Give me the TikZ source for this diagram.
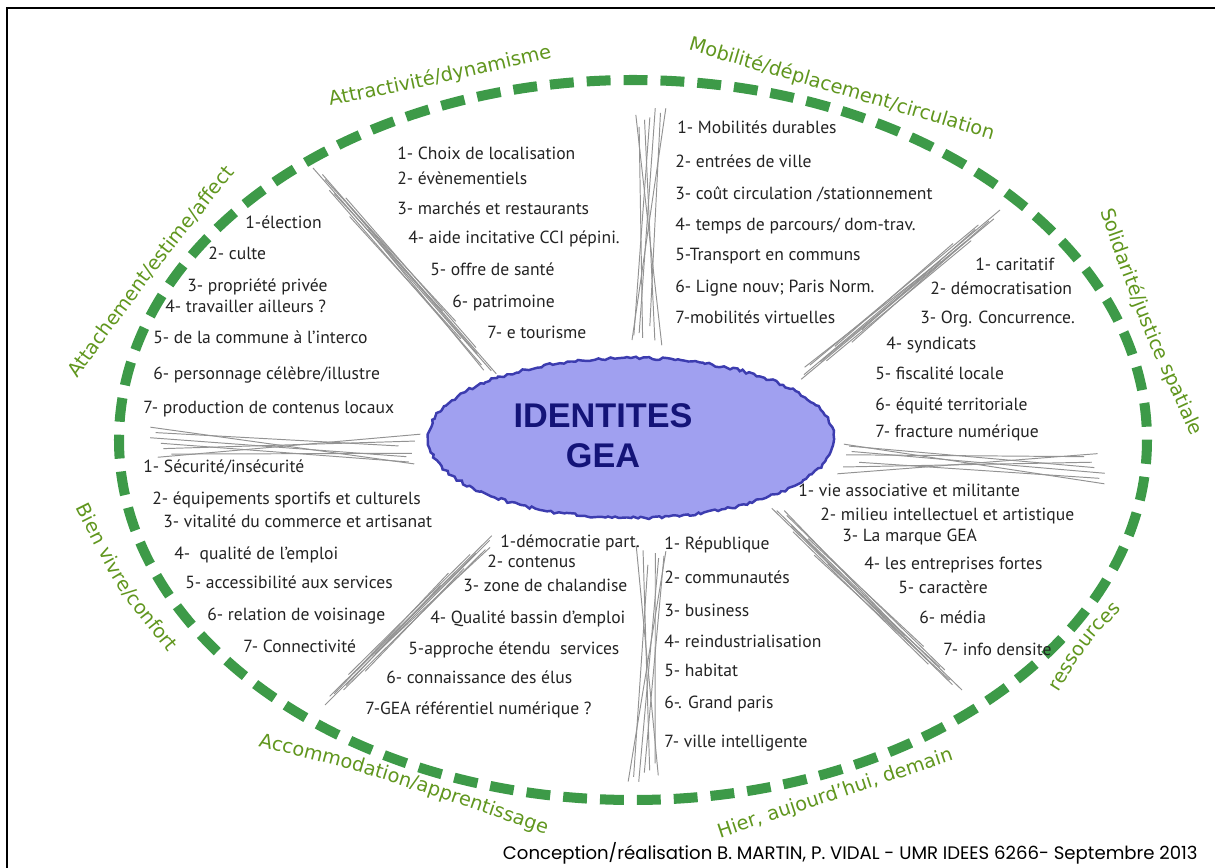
\documentclass[tikz,border=0pt]{standalone}
\usepackage{fontspec}
\usepackage{tikz}
\usetikzlibrary{shapes.geometric}
\usetikzlibrary{calc}
\usetikzlibrary{decorations.text}
\usetikzlibrary{decorations.pathmorphing}

\setmainfont{PT Sans}
\newfontfamily\ringfont{DejaVu Sans}
\newfontfamily\titlefont{Liberation Sans}
\newfontfamily\creditfont{Poppins}

\definecolor{ringgreen}{RGB}{61,154,72}
\definecolor{labelgreen}{RGB}{96,150,30}
\definecolor{corefill}{RGB}{160,160,240}
\definecolor{coreedge}{RGB}{60,60,175}
\definecolor{titleblue}{RGB}{20,20,120}
\definecolor{itemgray}{RGB}{35,35,35}

\def\slantlist{0/0pt/0.02/0pt, 0.04/1.6pt/0/1pt, 0.1/-1.4pt/0.06/-2pt, 0.16/2.8pt/0.12/2.2pt, 0.22/-2.6pt/0.18/-1pt, 0.06/0.8pt/0.24/3.4pt, 0.3/0.4pt/0.04/-3pt, 0.12/-0.6pt/0.3/1.6pt, 0.18/1.2pt/0.1/0.4pt}
\def\crosslist{0/9pt/0.02/-8pt, 0.03/-8pt/0/9pt, 0/3pt/0.05/-4pt, 0.05/-3pt/0.02/5pt, 0.02/6pt/0.08/2pt, 0.08/-6pt/0.03/-2pt, 0.04/0pt/0.04/-7pt}

\newcommand{\hatch}[3]{%
   \foreach \s/\p/\e/\q in #3
      \draw[hatchline] ($(#1)!\s!(#2)!\p!90:(#2)$) -- ($(#2)!\e!(#1)!\q!-90:(#1)$);
}
\newcommand{\ringlabel}[4]{%
   \path[decorate, decoration={text along path,
      text={|\ringfont\fontsize{11}{13}\selectfont\color{labelgreen}|#4}}]
      (#1) .. controls (#2) .. (#3) -- ($(#2)!1.4!(#3)$);
}

\begin{document}
\begin{tikzpicture}[x=0.02cm, y=-0.02cm,
   dashring/.style={draw=ringgreen, line width=5.7pt, dash pattern=on 13.6pt off 7.4pt},
   hatchline/.style={draw=gray!85, line width=0.55pt},
   item/.style={anchor=west, inner sep=0pt, text=itemgray, font=\fontsize{10}{12}\selectfont,
      text height=1.5ex, text depth=0.3ex}]

   \useasboundingbox (0,0) rectangle (1215,868);
   \draw[line width=1.1pt] (7,868) -- (7,8) -- (1215,8);

   \coordinate (ringc) at (633,440);
   \draw[dashring] (ringc) ellipse [x radius=514, y radius=360];

   \coordinate (h1a) at (313,168);  \coordinate (h1b) at (495,375);
   \coordinate (h2a) at (650,108);  \coordinate (h2b) at (646,345);
   \coordinate (h3a) at (1000,210); \coordinate (h3b) at (800,378);
   \coordinate (h4a) at (150,443);  \coordinate (h4b) at (420,450);
   \coordinate (h5a) at (1105,468); \coordinate (h5b) at (838,458);
   \coordinate (h6a) at (325,705);  \coordinate (h6b) at (493,537);
   \coordinate (h7a) at (644,782);  \coordinate (h7b) at (652,546);
   \coordinate (h8a) at (962,690);  \coordinate (h8b) at (773,507);

   \hatch{h1a}{h1b}{\slantlist}
   \hatch{h2a}{h2b}{\crosslist}
   \hatch{h3a}{h3b}{\slantlist}
   \hatch{h4a}{h4b}{\crosslist}
   \hatch{h5a}{h5b}{\crosslist}
   \hatch{h6a}{h6b}{\slantlist}
   \hatch{h7a}{h7b}{\crosslist}
   \hatch{h8a}{h8b}{\slantlist}

   \pgfmathsetseed{7}
   \node[ellipse, minimum width=8.12cm, minimum height=3.2cm, fill=corefill, draw=coreedge,
      line width=1.4pt, decorate, decoration={random steps, segment length=2pt, amplitude=0.8pt}]
      (core) at (631,438) {};
   \node[font=\titlefont\bfseries\fontsize{19.5}{23}\selectfont, text=titleblue, align=center]
      (title) at (603,436) {IDENTITES\\GEA};

   \foreach \n/\x/\y/\t in {1/397/154/{1- Choix de localisation}, 2/397/179/{2- évènementiels},
      3/397/209/{3- marchés et restaurants}, 4/408/238/{4- aide incitative CCI pépini.},
      5/430/270/{5- offre de santé}, 6/452/302/{6- patrimoine}, 7/487/333/{7- e tourisme}}
      \node[item] (attr-\n) at (\x,\y) {\t};

   \foreach \n/\x/\y/\t in {1/677/128/{1- Mobilités durables}, 2/675/162/{2- entrées de ville},
      3/675/194/{3- coût circulation /stationnement}, 4/675/225/{4- temps de parcours/ dom-trav.},
      5/675/255/{5-Transport en communs}, 6/675/287/{6- Ligne nouv; Paris Norm.},
      7/675/318/{7-mobilités virtuelles}}
      \node[item] (mobi-\n) at (\x,\y) {\t};

   \foreach \n/\x/\y/\t in {1/975/265/{1- caritatif}, 2/930/289/{2- démocratisation},
      3/920/318/{3- Org. Concurrence.}, 4/886/344/{4- syndicats}, 5/875/374/{5- fiscalité locale},
      6/875/405/{6- équité territoriale}, 7/875/432/{7- fracture numérique}}
      \node[item] (soli-\n) at (\x,\y) {\t};

   \foreach \n/\x/\y/\t in {1/798/491/{1- vie associative et militante},
      2/820/515/{2- milieu intellectuel et artistique}, 3/842/536/{3- La marque GEA},
      4/864/564/{4- les entreprises fortes}, 5/898/588/{5- caractère}, 6/919/618/{6- média},
      7/943/650/{7- info densite}}
      \node[item] (ress-\n) at (\x,\y) {\t};

   \foreach \n/\x/\y/\t in {1/664/544/{1- République}, 2/664/578/{2- communautés},
      3/664/611/{3- business}, 4/664/642/{4- reindustrialisation}, 5/664/671/{5- habitat},
      6/664/703/{6-. Grand paris}, 7/664/742/{7- ville intelligente}}
      \node[item] (hier-\n) at (\x,\y) {\t};

   \foreach \n/\x/\y/\t in {1/500/542/{1-démocratie part.}, 2/487/562/{2- contenus},
      3/463/586/{3- zone de chalandise}, 4/430/618/{4- Qualité bassin d’emploi},
      5/408/649/{5-approche étendu\ \ services}, 6/386/678/{6- connaissance des élus},
      7/365/709/{7-GEA référentiel numérique ?}}
      \node[item] (acco-\n) at (\x,\y) {\t};

   \foreach \n/\x/\y/\t in {1/143/467/{1- Sécurité/insécurité},
      2/152/499/{2- équipements sportifs et culturels}, 3/163/522/{3- vitalité du commerce et artisanat},
      4/174/554/{4-\ \ qualité de l’emploi}, 5/185/583/{5- accessibilité aux services},
      6/207/615/{6- relation de voisinage}, 7/243/647/{7- Connectivité}}
      \node[item] (bien-\n) at (\x,\y) {\t};

   \foreach \n/\x/\y/\t in {1/245/223/{1-élection}, 2/208/254/{2- culte},
      3/187/286/{3- propriété privée}, 4/165/307/{4- travailler ailleurs ?},
      5/153/338/{5- de la commune à l’interco}, 6/153/374/{6- personnage célèbre/illustre},
      7/143/408/{7- production de contenus locaux}}
      \node[item] (atta-\n) at (\x,\y) {\t};

   \ringlabel{77,379}{149,280}{240,166}{Attachement/estime/affect}
   \ringlabel{330,106}{442,83}{555,57}{Attractivité/dynamisme}
   \ringlabel{688,50}{845,96}{1003,143}{Mobilité/déplacement/circulation}
   \ringlabel{1100,211}{1141,326}{1192,437}{Solidarité/justice spatiale}
   \ringlabel{1058,692}{1090,641}{1128,603}{ressources}
   \ringlabel{720,838}{840,798}{960,758}{Hier, aujourd’hui, demain}
   \ringlabel{258,746}{374,775}{557,838}{Accommodation/apprentissage}
   \ringlabel{76,508}{116,588}{172,657}{Bien vivre/confort}

   \node[anchor=east, inner sep=0pt, font=\creditfont\fontsize{10.3}{12}\selectfont]
      (credit) at (1198,853) {Conception/réalisation B. MARTIN, P. VIDAL - UMR IDEES 6266- Septembre 2013};
\end{tikzpicture}
\end{document}
